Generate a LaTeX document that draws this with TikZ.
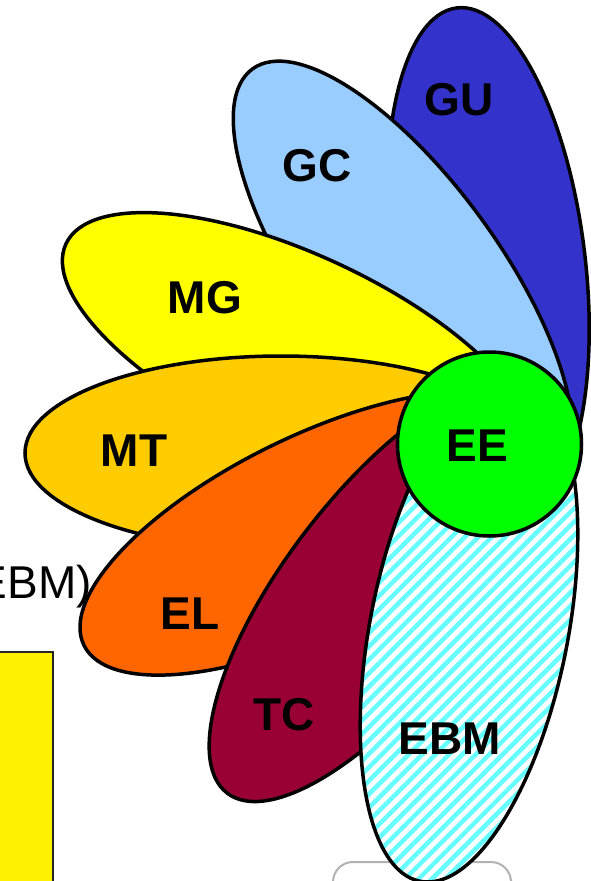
\documentclass[tikz,border=0pt]{standalone}
\usepackage{fontspec}
\setmainfont{Liberation Sans}
\usetikzlibrary{patterns.meta}
\definecolor{gublue}{HTML}{3333CC}
\definecolor{gcblue}{HTML}{99CCFF}
\definecolor{mgyellow}{HTML}{FFFF00}
\definecolor{mtorange}{HTML}{FFCC00}
\definecolor{elorange}{HTML}{FF6600}
\definecolor{tcred}{HTML}{990033}
\definecolor{eegreen}{HTML}{00FF00}
\definecolor{ebmcyan}{HTML}{66FFFF}

\begin{document}
\begin{tikzpicture}[x=1pt, y=1pt,
        petal/.style={draw=black, line width=3.5pt},
        lbl/.style={font=\fontsize{46}{50}\selectfont\bfseries}]
        \useasboundingbox (0,0) rectangle (591,-881);

        % cut off at the left and bottom
        \node[anchor=base east, inner sep=0pt, font=\fontsize{46}{50}\selectfont] (ebmnote) at (92,-598) {(EBM)};
        \draw[fill=yellow, draw=black!85, line width=2pt] (-20,-652) rectangle (53,-900);
        \draw[draw=black!30, line width=2pt, rounded corners=20pt, fill=white] (333,-900) rectangle (511,-862);

        \draw[petal, fill=gublue, rotate around={97:(488,-262)}] (488,-262) ellipse (256pt and 97pt);
        \draw[petal, fill=gcblue, rotate around={126:(403,-276)}] (403,-276) ellipse (256pt and 97pt);
        \draw[petal, fill=mgyellow, rotate around={155:(298,-352)}] (298,-352) ellipse (256pt and 97pt);
        \draw[petal, fill=mtorange, rotate around={180:(281,-453)}] (281,-453) ellipse (256pt and 97pt);
        \draw[petal, fill=elorange, rotate around={206:(314,-533)}] (314,-533) ellipse (256pt and 97pt);
        \draw[petal, fill=tcred, rotate around={232.5:(383,-590)}] (383,-590) ellipse (256pt and 97pt);
        % hatched: fill first, outline on top
        \fill[white, rotate around={259:(469,-630)},
            postaction={pattern={Lines[angle=45, distance=9.5pt, line width=4.5pt]}, pattern color=ebmcyan}]
            (469,-630) ellipse (256pt and 99pt);
        \draw[petal, rotate around={259:(469,-630)}] (469,-630) ellipse (256pt and 99pt);
        \draw[fill=eegreen, line width=3.5pt] (489.5,-444) circle (92pt);

        \node[lbl] (gu) at (459,-100) {GU};
        \node[lbl] (gc) at (317,-166) {GC};
        \node[lbl] (mg) at (205,-298) {MG};
        \node[lbl] (mt) at (134,-451) {MT};
        \node[lbl] (el) at (190,-614) {EL};
        \node[lbl] (tc) at (284,-715) {TC};
        \node[lbl] (ebm) at (450,-739) {EBM};
        \node[lbl] (ee) at (477,-446) {EE};
\end{tikzpicture}
\end{document}
